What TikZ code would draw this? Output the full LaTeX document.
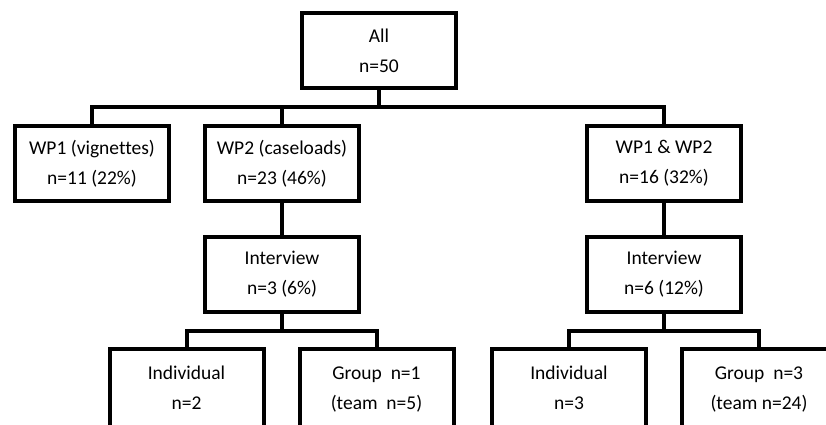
\documentclass[tikz,border=0pt]{standalone}
\usepackage{fontspec}
\setmainfont{Carlito}[Ligatures=NoCommon]
\usetikzlibrary{positioning, calc}

\begin{document}
\begin{tikzpicture}
		[
	x=1pt, y=-1pt,
	elem/.style={draw,rectangle,line width=4pt,node distance=32pt,align=center,minimum width=154pt,minimum height=75pt,font=\fontsize{19.5}{30}\selectfont},
	leaf/.style={elem,text depth=20pt,minimum height=98pt},
	link/.style={line width=4pt}
	]
		\useasboundingbox (0,0) rectangle (826,425);
		\clip (0,0) rectangle (826,425);
		\node (all) [elem] at (379,51) {All\\n=50};
		\node (wp1) [elem] at (92,163.5) {WP1 (vignettes)\\n=11 (22\%)};
		\node (wp2) [elem,right=of wp1] {WP2 (caseloads)\\n=23 (46\%)};
		\node (wpb) [elem] at (664,163.5) {WP1 \& WP2\\n=16 (32\%)};
		\node (int1) [elem,below=of wp2] {Interview\\n=3 (6\%)};
		\node (int2) [elem,below=of wpb] {Interview\\n=6 (12\%)};
		\node (ind1) [leaf,below=33pt of int1,xshift=-95.5pt] {Individual\\n=2};
		\node (grp1) [leaf,right=of ind1] {Group~~n=1\\(team~~n=5)};
		\node (ind2) [leaf,below=33pt of int2,xshift=-95pt] {Individual\\n=3};
		\node (grp2) [leaf,right=of ind2] {Group~~n=3\\(team n=24)};

		\coordinate (bus) at ($(all.south)!0.5!(all.south |- wp1.north)$);
		\coordinate (sub1) at ($(int1.south)!0.5!(int1.south |- ind1.north)$);
		\coordinate (sub2) at ($(int2.south)!0.5!(int2.south |- ind2.north)$);

		\draw [link] (all) -- (all |- bus);
		\draw [link] (wp1) -- (wp1 |- bus) -- (wpb |- bus) -- (wpb);
		\draw [link] (wp2) -- (wp2 |- bus);
		\draw [link] (wp2) -- (int1);
		\draw [link] (wpb) -- (int2);
		\draw [link] (int1) -- (sub1);
		\draw [link] (ind1) -- (ind1 |- sub1) -- (grp1 |- sub1) -- (grp1);
		\draw [link] (int2) -- (sub2);
		\draw [link] (ind2) -- (ind2 |- sub2) -- (grp2 |- sub2) -- (grp2);
	\end{tikzpicture}
\end{document}
